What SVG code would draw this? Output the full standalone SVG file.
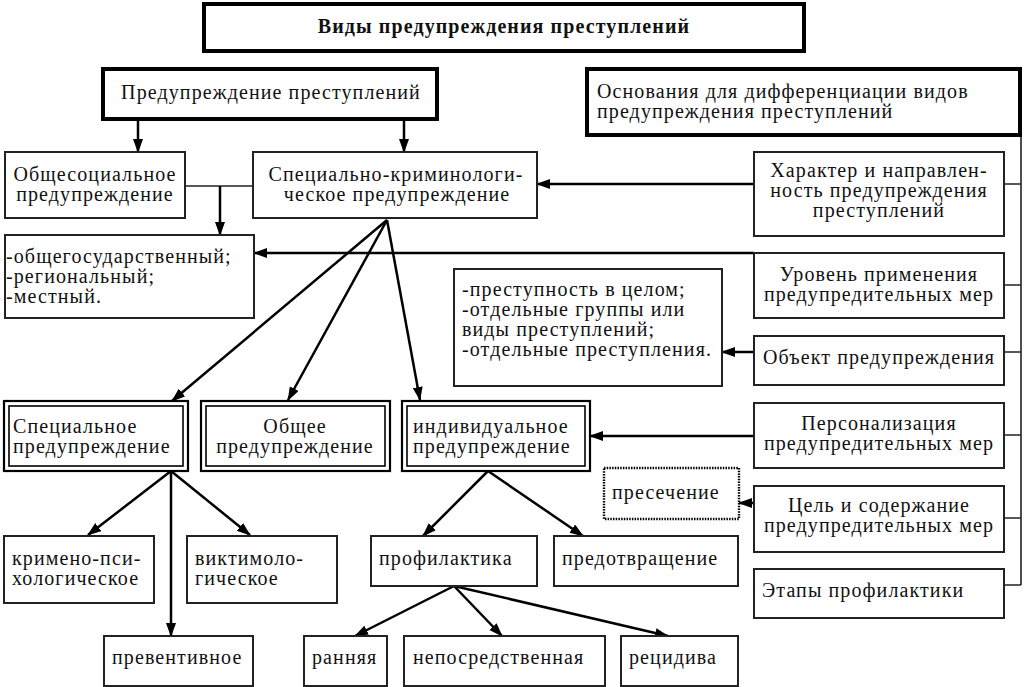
<svg xmlns="http://www.w3.org/2000/svg" width="1024" height="687" viewBox="0 0 1024 687">
<defs>
<marker id="ah" markerUnits="userSpaceOnUse" markerWidth="14" markerHeight="12" refX="13" refY="5" orient="auto">
<path d="M0,0 L14,5 L0,10 z" fill="#000"/>
</marker>
<style>
.c{text-anchor:middle}
.t{font-weight:bold}
.box{fill:#fff;stroke:#222;stroke-width:2}
.thick{fill:#fff;stroke:#000;stroke-width:4}
.dbo{fill:#fff;stroke:#000;stroke-width:2.2}
.dbi{fill:none;stroke:#000;stroke-width:1.6}
.dot{fill:#fff;stroke:#000;stroke-width:2.4;stroke-dasharray:1.5 1.2}
.ar{fill:none;stroke:#000;stroke-width:2.5;marker-end:url(#ah)}
.ln{fill:none;stroke:#222;stroke-width:1.6}
</style>
</defs>
<rect width="1024" height="687" fill="#fff"/>
<g id="connectors">
<path class="ar" d="M138,120 V152"/>
<path class="ar" d="M404,120 V152"/>
<path class="ln" d="M185,186 H253"/>
<path class="ar" d="M220,186 V235"/>
<path class="ar" d="M754,184 H537"/>
<path class="ar" d="M754,253 H254"/>
<path class="ar" d="M754,352 H722"/>
<path class="ar" d="M754,436 H590"/>
<path class="ar" d="M754,503 H739"/>
<path class="ar" d="M387,220 L172,401"/>
<path class="ar" d="M387,220 L288,400"/>
<path class="ar" d="M387,220 L420,400"/>
<path class="ar" d="M171,471 L88,535"/>
<path class="ar" d="M171,471 L250,535"/>
<path class="ar" d="M171,471 V636"/>
<path class="ar" d="M488,471 L423,536"/>
<path class="ar" d="M488,471 L583,536"/>
<path class="ar" d="M454,586 L355,636"/>
<path class="ar" d="M454,586 L502,636"/>
<path class="ar" d="M454,586 L668,636"/>
<path class="ln" d="M1021,136 V585 M1004,184 H1021 M1004,285 H1021 M1004,352 H1021 M1004,435 H1021 M1004,518 H1021 M1004,585 H1021"/>
</g>
<g font-family="'Liberation Serif','Times New Roman','DejaVu Serif',serif" font-size="20" letter-spacing="1.1" fill="#111">
<g id="title"><rect class="thick" x="204" y="4" width="600" height="47"/><text class="c t" x="504" y="33">Виды предупреждения преступлений</text></g>
<g id="n-pp"><rect class="thick" x="103" y="69" width="334" height="50"/><text class="c" x="271" y="99">Предупреждение преступлений</text></g>
<g id="n-osn"><rect class="thick" x="587" y="69" width="433" height="66"/><text x="597" y="98">Основания для дифференциации видов</text><text x="597" y="118">предупреждения преступлений</text></g>
<g id="n-obsh"><rect class="box" x="5" y="152" width="180" height="66"/><text class="c" x="95" y="181">Общесоциальное</text><text class="c" x="95" y="201">предупреждение</text></g>
<g id="n-spk"><rect class="box" x="253" y="152" width="284" height="66"/><text class="c" x="396" y="181">Специально-криминологи-</text><text class="c" x="397" y="201">ческое предупреждение</text></g>
<g id="n-lvl"><rect class="box" x="5" y="235" width="249" height="83"/><text x="6" y="263">-общегосударственный;</text><text x="6" y="283">-региональный;</text><text x="6" y="303">-местный.</text></g>
<g id="n-obj"><rect class="box" x="454" y="269" width="268" height="117"/><text x="462" y="296">-преступность в целом;</text><text x="462" y="316">-отдельные группы или</text><text x="462" y="336">виды преступлений;</text><text x="462" y="356">-отдельные преступления.</text></g>
<g id="r-har"><rect class="box" x="754" y="152" width="250" height="84"/><text class="c" x="879" y="177">Характер и направлен-</text><text class="c" x="879" y="197">ность предупреждения</text><text class="c" x="879" y="217">преступлений</text></g>
<g id="r-ur"><rect class="box" x="754" y="253" width="250" height="65"/><text class="c" x="879" y="281">Уровень применения</text><text class="c" x="879" y="301">предупредительных мер</text></g>
<g id="r-obj"><rect class="box" x="754" y="336" width="250" height="49"/><text class="c" x="879" y="364">Объект предупреждения</text></g>
<g id="r-pers"><rect class="box" x="754" y="403" width="250" height="65"/><text class="c" x="879" y="430">Персонализация</text><text class="c" x="879" y="450">предупредительных мер</text></g>
<g id="r-cel"><rect class="box" x="754" y="486" width="250" height="66"/><text class="c" x="879" y="512">Цель и содержание</text><text class="c" x="879" y="532">предупредительных мер</text></g>
<g id="r-etap"><rect class="box" x="754" y="569" width="250" height="49"/><text x="762" y="597">Этапы профилактики</text></g>
<g id="n-spec"><rect class="dbo" x="4" y="401" width="184" height="70"/><rect class="dbi" x="9" y="406" width="174" height="60"/><text x="13" y="433">Специальное</text><text x="13" y="453">предупреждение</text></g>
<g id="n-gen"><rect class="dbo" x="201" y="401" width="189" height="70"/><rect class="dbi" x="206" y="406" width="179" height="60"/><text class="c" x="295" y="433">Общее</text><text class="c" x="295" y="453">предупреждение</text></g>
<g id="n-ind"><rect class="dbo" x="402" y="401" width="188" height="70"/><rect class="dbi" x="407" y="406" width="178" height="60"/><text x="413" y="433">индивидуальное</text><text x="413" y="453">предупреждение</text></g>
<g id="n-pres"><rect class="dot" x="604" y="468" width="135" height="51"/><text x="612" y="499">пресечение</text></g>
<g id="n-krim"><rect class="box" x="4" y="536" width="150" height="67"/><text x="12" y="565">кримено-пси-</text><text x="12" y="585">хологическое</text></g>
<g id="n-vikt"><rect class="box" x="187" y="536" width="150" height="67"/><text x="195" y="565">виктимоло-</text><text x="195" y="585">гическое</text></g>
<g id="n-prev"><rect class="box" x="104" y="636" width="149" height="50"/><text x="112" y="664">превентивное</text></g>
<g id="n-prof"><rect class="box" x="371" y="536" width="166" height="50"/><text x="379" y="565">профилактика</text></g>
<g id="n-predot"><rect class="box" x="554" y="536" width="184" height="50"/><text x="562" y="565">предотвращение</text></g>
<g id="n-ran"><rect class="box" x="304" y="636" width="83" height="50"/><text x="312" y="664">ранняя</text></g>
<g id="n-nep"><rect class="box" x="404" y="636" width="201" height="50"/><text x="413" y="664">непосредственная</text></g>
<g id="n-rec"><rect class="box" x="621" y="636" width="117" height="50"/><text x="629" y="664">рецидива</text></g>
</g>
</svg>
